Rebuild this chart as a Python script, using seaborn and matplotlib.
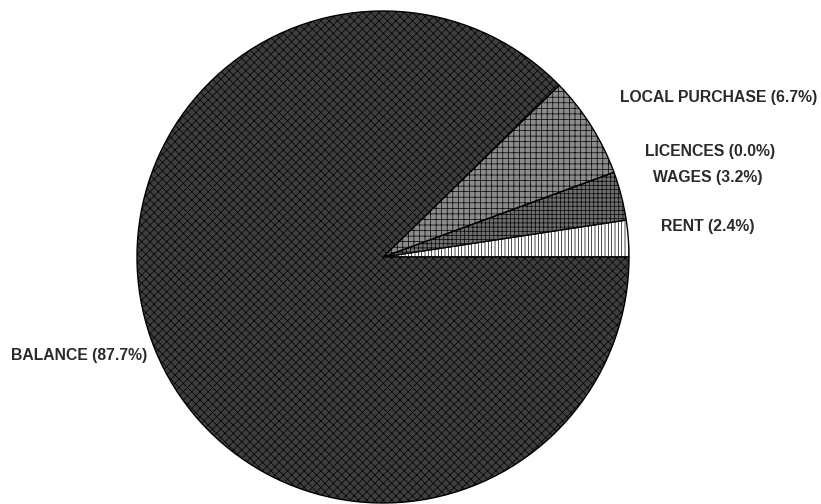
import matplotlib
matplotlib.use("Agg")
import matplotlib.pyplot as plt
import seaborn as sns

sns.set_theme(style="white")
plt.rcParams['font.family'] = ['Liberation Sans', 'DejaVu Sans']
plt.rcParams['hatch.linewidth'] = 0.5

categories = ["RENT", "WAGES", "LICENCES", "LOCAL PURCHASE", "BALANCE"]
values = [2.4, 3.2, 0.0, 6.7, 87.7]
colors = ["#ffffff", "#6e6e6e", "#6e6e6e", "#8c8c8c", "#3e3e3e"]
hatches = ["|||||", "++++", "++++", "+++", "xxxx"]

# label anchor positions (data units relative to pie radius) and alignment
label_pos = [(1.130, 0.122, "left"), (1.098, 0.325, "left"), (1.065, 0.427, "left"),
             (0.963, 0.650, "left"), (-0.959, -0.402, "right")]

fig = plt.figure(figsize=(8.21, 5.04), dpi=100)
W, H = 821, 504
cx, cy, r = 383, 257, 246
ax = fig.add_axes([(cx - r) / W, (H - cy - r) / H, 2 * r / W, 2 * r / H])

labels = [f"{c} ({v:.1f}%)" for c, v in zip(categories, values)]
wedges, texts = ax.pie(values, labels=labels, colors=colors, startangle=0,
                       counterclock=True, radius=1.0,
                       wedgeprops=dict(edgecolor="black", linewidth=1.0),
                       textprops=dict(fontsize=11.3, fontweight="bold", color="#2a2a2a"))
for w, h in zip(wedges, hatches):
    w.set_hatch(h)
for t, (x, y, ha) in zip(texts, label_pos):
    t.set_position((x, y))
    t.set_ha(ha)
    t.set_va("center")

ax.set_xlim(-1, 1)
ax.set_ylim(-1, 1)
ax.set_aspect("equal")
ax.axis("off")
fig.savefig("out.png", dpi=100)
